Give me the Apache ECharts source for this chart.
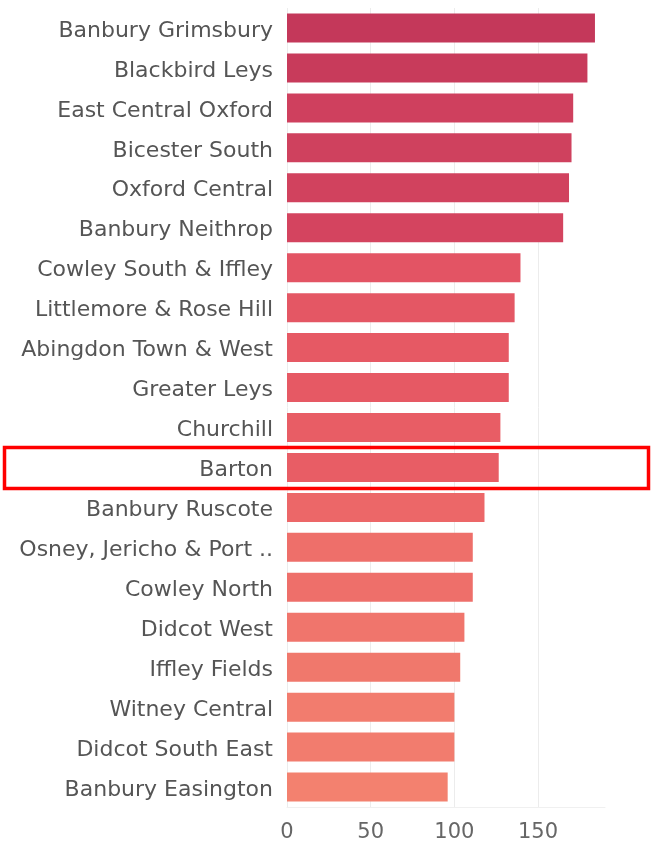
<!DOCTYPE html>
<html>
<head>
<meta charset="utf-8">
<script src="https://cdn.jsdelivr.net/npm/echarts@6/dist/echarts.min.js"></script>
<style>
  html, body { margin: 0; padding: 0; background: #fff; }
  #chart { width: 651px; height: 843px; }
</style>
</head>
<body>
<div id="chart"></div>
<script>
// wards, top to bottom
const wards = [
  'Banbury Grimsbury', 'Blackbird Leys', 'East Central Oxford', 'Bicester South',
  'Oxford Central', 'Banbury Neithrop', 'Cowley South & Iffley', 'Littlemore & Rose Hill',
  'Abingdon Town & West', 'Greater Leys', 'Churchill', 'Barton', 'Banbury Ruscote',
  'Osney, Jericho & Port ..', 'Cowley North', 'Didcot West', 'Iffley Fields',
  'Witney Central', 'Didcot South East', 'Banbury Easington'
]
const values = [
  184, 179.5, 171, 170, 168.5, 165, 139.5, 136, 132.5, 132.5,
  127.5, 126.5, 118, 111, 111, 106, 103.5, 100, 100, 96
]
const xTicks = [0, 50, 100, 150]
const highlighted = 'Barton'

const labelFont = '"DejaVu Sans", "Open Sans", sans-serif'

const chart = echarts.init(document.getElementById('chart'))

chart.setOption({
  animation: false,
  grid: {
    left: 287,
    right: 46,
    top: 8,
    height: 800
  },
  visualMap: {
    show: false,
    type: 'continuous',
    dimension: 0,
    min: 96,
    max: 184,
    inRange: {
      color: ['#f3816f', '#e95e65', '#dc4a62', '#c4385a']
    }
  },
  xAxis: {
    type: 'value',
    min: xTicks[0],
    max: 190,
    interval: xTicks[1] - xTicks[0],
    axisLine: { show: true, lineStyle: { color: '#f0f0f0' } },
    axisTick: { show: false },
    splitLine: {
      show: true,
      showMaxLine: false,
      lineStyle: { color: '#ececec', width: 1 }
    },
    axisLabel: {
      showMaxLabel: false,
      margin: 15,
      color: '#666',
      fontSize: 21,
      fontFamily: labelFont
    }
  },
  yAxis: {
    type: 'category',
    data: wards,
    inverse: true,
    axisLine: { show: false },
    axisTick: { show: false },
    axisLabel: {
      margin: 14,
      color: '#555',
      fontSize: 22,
      fontFamily: labelFont,
      verticalAlign: 'top',
      lineHeight: 6
    }
  },
  series: [{
    type: 'bar',
    data: values,
    barWidth: 29
  }]
})

// red box round the highlighted ward
const cy = chart.convertToPixel({ yAxisIndex: 0 }, highlighted)
chart.setOption({
  graphic: [{
    type: 'rect',
    shape: { x: 4.5, y: cy - 20, width: 644, height: 41 },
    style: { fill: null, stroke: '#ff0000', lineWidth: 3.5 },
    z: 100
  }]
})
</script>
</body>
</html>
